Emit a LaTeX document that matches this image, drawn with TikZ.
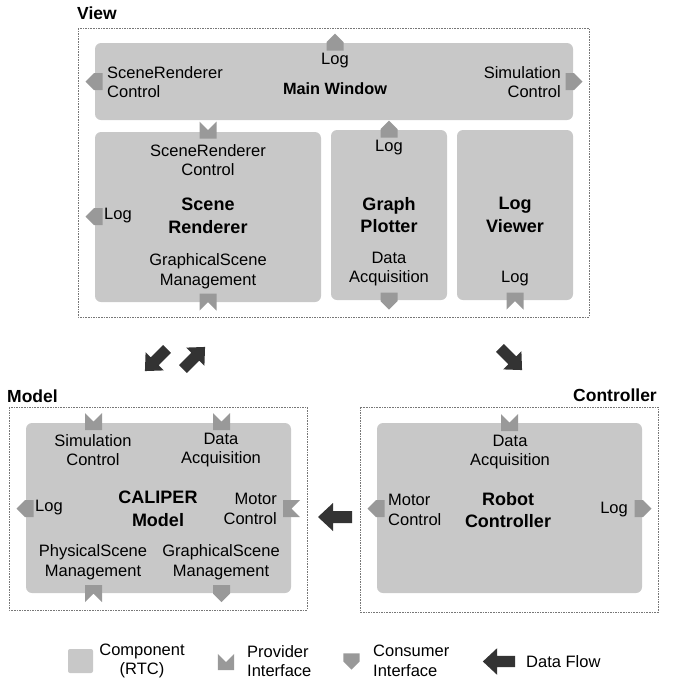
\documentclass[tikz,border=0pt]{standalone}
\usepackage{fontspec}
\setmainfont{Liberation Sans}
\definecolor{compgray}{HTML}{C8C8C8}
\definecolor{ifacegray}{HTML}{999999}
\definecolor{flowgray}{HTML}{333333}
\definecolor{dashgray}{HTML}{777777}
\tikzset{
  compbox/.style={fill=compgray, rounded corners=6pt},
  groupbox/.style={draw=dashgray, line width=0.6pt, dash pattern=on 1.6pt off 1pt},
  txt/.style={font=\fontsize{16.5}{19.5}\selectfont, align=center, inner sep=0pt},
  btxt/.style={font=\fontsize{18}{22.5}\selectfont\bfseries, align=center, inner sep=0pt},
  mtxt/.style={font=\fontsize{16.3}{19.5}\selectfont\bfseries, align=center, inner sep=0pt},
  gtxt/.style={font=\fontsize{17.5}{21}\selectfont\bfseries, inner sep=0pt},
  consumer/.pic={\fill[ifacegray] (-8.5,8.5) -- (-8.5,0) -- (0,-8.5) -- (8.5,0) -- (8.5,8.5) -- cycle;},
  provider/.pic={\fill[ifacegray] (-8.5,8.5) -- (-8.5,-8.5) -- (0,0) -- (8.5,-8.5) -- (8.5,8.5) -- cycle;},
  flowarrow/.pic={\fill[flowgray] (-17,-6) -- (2,-6) -- (2,-14) -- (17,0) -- (2,14) -- (2,6) -- (-17,6) -- cycle;}
}
\begin{document}
\begin{tikzpicture}[x=1pt,y=-1pt]
\useasboundingbox (0,0) rectangle (673,681);

% ---------- View ----------
\node[gtxt, anchor=west] (viewlbl) at (77,13) {View};
\draw[groupbox] (78,28) rectangle (589,317);

% Main Window
\fill[compbox] (95,43) rectangle (573,120);
\node[txt] (mwlog) at (335,61) {Log};
\node[mtxt] (mw) at (335,89) {Main Window};
\node[txt, anchor=west, align=left] (mwsrc) at (107,82) {SceneRenderer\\Control};
\node[txt, anchor=east, align=right] (mwsim) at (561,82) {Simulation\\Control};
\pic at (335,42) {consumer};
\pic[rotate=90] at (94,81.5) {consumer};
\pic[rotate=-90] at (574,81.5) {consumer};

% Scene Renderer
\fill[compbox] (95,132) rectangle (321,302);
\node[txt] (srctl) at (208,160) {SceneRenderer\\Control};
\node[btxt] (sr) at (208,216) {Scene\\Renderer};
\node[txt] (srgsm) at (208,271) {GraphicalScene\\Management};
\node[txt, anchor=west] (srlog) at (104,216) {Log};
\pic at (208,130) {provider};
\pic[rotate=90] at (94,216.5) {consumer};
\pic[rotate=180] at (208,302) {provider};

% Graph Plotter
\fill[compbox] (331,130) rectangle (447,300);
\node[txt] (gplog) at (389,148) {Log};
\node[btxt] (gp) at (389,215) {Graph\\Plotter};
\node[txt] (gpda) at (389,269) {Data\\Acquisition};
\pic at (389,129) {consumer};
\pic[rotate=180] at (389,301) {consumer};

% Log Viewer
\fill[compbox] (457,130) rectangle (573,300);
\node[btxt] (lv) at (515,215) {Log\\Viewer};
\node[txt] (lvlog) at (515,279) {Log};
\pic[rotate=180] at (515,301) {provider};

% ---------- Data flow arrows ----------
\pic[rotate=225, scale=0.92] at (156,360) {flowarrow};
\pic[rotate=45, scale=0.92] at (194,358) {flowarrow};
\pic[rotate=-45, scale=0.92] at (511,359) {flowarrow};
\pic[rotate=180] at (335,517) {flowarrow};

% ---------- Model ----------
\node[gtxt, anchor=west] (modellbl) at (7,396) {Model};
\draw[groupbox] (9,407) rectangle (307,610);
\fill[compbox] (26,423) rectangle (291,593);
\node[txt] (cmsim) at (93,450) {Simulation\\Control};
\node[txt] (cmda) at (221,450) {Data\\Acquisition};
\node[txt, anchor=west] (cmlog) at (35,508) {Log};
\node[btxt] (cm) at (158,509) {CALIPER\\Model};
\node[txt, anchor=east, align=right] (cmmc) at (277,509) {Motor\\Control};
\node[txt] (cmpsm) at (93,562) {PhysicalScene\\Management};
\node[txt] (cmgsm) at (221,562) {GraphicalScene\\Management};
\pic at (93.5,421.5) {provider};
\pic at (221.5,421.5) {provider};
\pic[rotate=90] at (25,508.5) {consumer};
\pic[rotate=-90] at (291.5,508.5) {provider};
\pic[rotate=180] at (93.5,593.5) {provider};
\pic[rotate=180] at (221.5,593.5) {consumer};

% ---------- Controller ----------
\node[gtxt, anchor=east] (ctrllbl) at (657,395) {Controller};
\draw[groupbox] (360,407) rectangle (658,612);
\fill[compbox] (377,423) rectangle (642,593);
\node[txt] (rcda) at (510,452) {Data\\Acquisition};
\node[txt, anchor=west, align=left] (rcmc) at (388,510) {Motor\\Control};
\node[btxt] (rc) at (508,510) {Robot\\Controller};
\node[txt, anchor=east] (rclog) at (628,510) {Log};
\pic at (509.5,422.5) {provider};
\pic[rotate=90] at (376,508.5) {consumer};
\pic[rotate=-90] at (643,508.5) {consumer};

% ---------- Legend ----------
\fill[compgray, rounded corners=2pt] (68,649) rectangle (93,673);
\node[txt] (lgcomp) at (142,661) {Component\\(RTC)};
\pic[scale=0.95] at (226,662) {provider};
\node[txt, anchor=west, align=left] (lgprov) at (247,661) {Provider\\Interface};
\pic[rotate=180, scale=0.95] at (351.5,661.5) {consumer};
\node[txt, anchor=west, align=left] (lgcons) at (373,661) {Consumer\\Interface};
\pic[rotate=180, scale=0.95] at (499,661.5) {flowarrow};
\node[txt, anchor=west] (lgflow) at (526,662) {Data Flow};
\end{tikzpicture}
\end{document}
